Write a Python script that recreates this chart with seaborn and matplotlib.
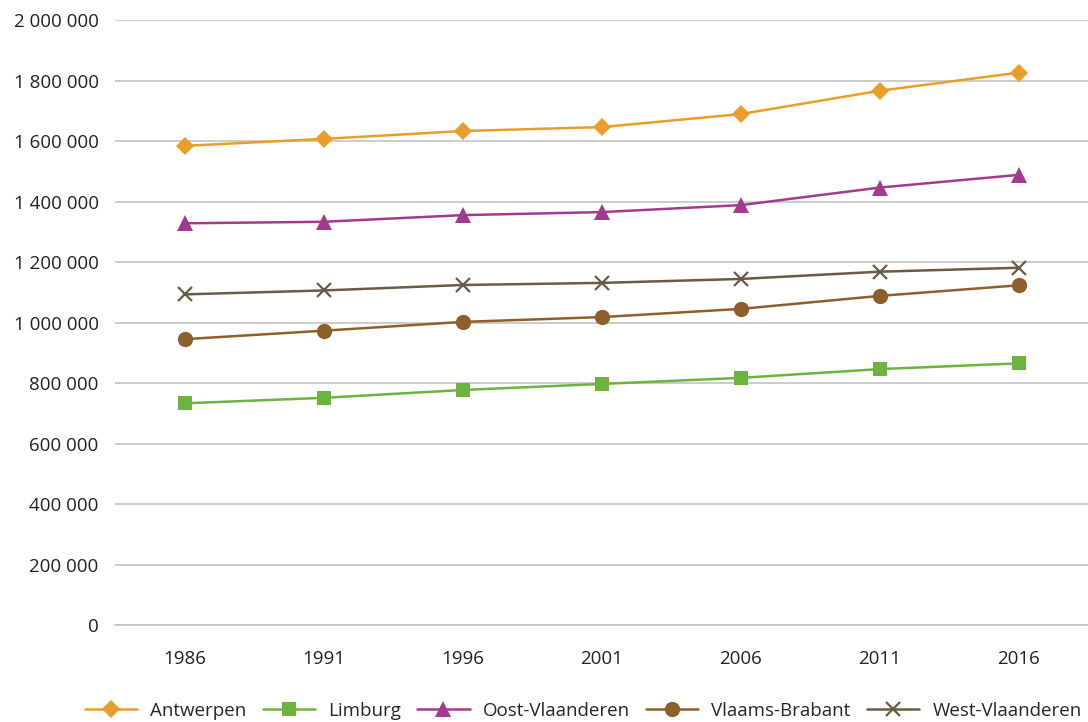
import matplotlib
matplotlib.use("Agg")
import matplotlib.pyplot as plt
import matplotlib.ticker as mticker
import seaborn as sns
import pandas as pd

# Bevolking per provincie (Vlaanderen)
years = ["1986", "1991", "1996", "2001", "2006", "2011", "2016"]
antwerpen = [1584000, 1607000, 1633000, 1646000, 1689000, 1766000, 1826000]
limburg = [733000, 751000, 777000, 797000, 817000, 846000, 865000]
oost_vlaanderen = [1328000, 1333000, 1355000, 1365000, 1388000, 1446000, 1488000]
vlaams_brabant = [945000, 973000, 1002000, 1018000, 1045000, 1088000, 1123000]
west_vlaanderen = [1093000, 1106000, 1124000, 1131000, 1144000, 1168000, 1181000]

series = {
    "Antwerpen": antwerpen,
    "Limburg": limburg,
    "Oost-Vlaanderen": oost_vlaanderen,
    "Vlaams-Brabant": vlaams_brabant,
    "West-Vlaanderen": west_vlaanderen,
}
colors = {
    "Antwerpen": "#E89E29",
    "Limburg": "#6DB33F",
    "Oost-Vlaanderen": "#A23B8E",
    "Vlaams-Brabant": "#8E5F2B",
    "West-Vlaanderen": "#6B5A45",
}
markers = {
    "Antwerpen": ("D", 9),
    "Limburg": ("s", 10),
    "Oost-Vlaanderen": ("^", 11),
    "Vlaams-Brabant": ("o", 11),
    "West-Vlaanderen": ("x", 10),
}

rows = []
for name, vals in series.items():
    for i, (yr, v) in enumerate(zip(years, vals)):
        rows.append({"pos": i, "jaar": yr, "provincie": name, "bevolking": v})
df = pd.DataFrame(rows)

sns.set_theme(style="white")
plt.rcParams["font.family"] = ["Open Sans", "DejaVu Sans"]

fig = plt.figure(figsize=(10.88, 7.22), dpi=100)
ax = fig.add_axes([0.106, 0.1343, 0.894, 0.838])

for name in series:
    sub = df[df["provincie"] == name]
    m, ms = markers[name]
    sns.lineplot(
        data=sub, x="pos", y="bevolking", ax=ax, color=colors[name],
        marker=m, markersize=ms, markeredgewidth=1.6 if m == "x" else 0,
        markeredgecolor=colors[name], linewidth=1.8, label=name,
    )

ax.set_ylim(0, 2000000)
ax.set_xlim(-0.5, len(years) - 0.5)
ax.yaxis.set_major_locator(mticker.MultipleLocator(200000))
ax.yaxis.set_major_formatter(
    mticker.FuncFormatter(lambda v, p: f"{int(v):,}".replace(",", " "))
)
ax.grid(axis="y", color="#BFBFBF", linewidth=1.1)
ax.set_axisbelow(True)

ax.set_xticks(range(len(years)))
ax.set_xticklabels(years)
ax.set_xticks([i - 0.5 for i in range(len(years) + 1)], minor=True)
ax.tick_params(axis="x", which="major", length=0, pad=18, labelsize=13.5, colors="#222222")
ax.tick_params(axis="x", which="minor", length=6, color="#BFBFBF", width=1.1)
ax.tick_params(axis="y", length=0, pad=12, labelsize=13.5, colors="#222222")

for side in ["left", "right", "top"]:
    ax.spines[side].set_visible(False)
ax.spines["bottom"].set_color("#BFBFBF")
ax.spines["bottom"].set_linewidth(1.1)

ax.set_xlabel("")
ax.set_ylabel("")

handles, labels = ax.get_legend_handles_labels()
ax.get_legend().remove()
fig.legend(
    handles, labels, loc="lower center", bbox_to_anchor=(0.536, -0.02), ncol=5,
    frameon=False, fontsize=13.5, handlelength=2.8, columnspacing=0.85,
    handletextpad=0.7,
)

plt.savefig("out.png", dpi=100)
